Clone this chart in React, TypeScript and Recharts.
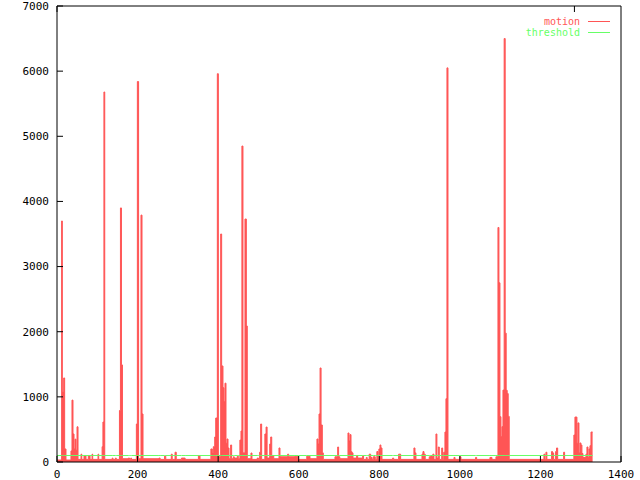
import { ComposedChart, Area, Line, XAxis, YAxis } from 'recharts';

// frame number where each step starts, and the motion value held until the next frame
const frames = [
  0, 11.5, 13.2, 16.6, 19, 22.3, 34.7, 37.2, 39.7, 42.2, 44.7, 47.2, 49.7, 52.2,
  59.6, 61.5, 67, 72, 77.7, 82, 87, 88.6, 101.8, 103.5,
  112, 114, 116.5, 118.5, 137, 139, 145, 147,
  155, 157.5, 160, 162.5, 177, 180, 183, 185,
  197, 199.5, 202.5, 208.5, 211, 213.5,
  253, 256, 267, 270, 283.7, 286, 293, 296, 309, 318, 351, 355,
  382, 385.5, 388, 391.5, 394, 398, 400.5, 406.3, 408.7, 412, 414.5, 417, 419.5, 422, 424.5,
  427, 431, 433.5, 437.7, 440, 447.6, 450, 454, 456.7, 459, 461.6, 466.6, 470, 472.3,
  481.5, 484, 497, 500, 503, 505.5, 508, 516, 519, 521.5, 528, 530.5, 533, 538,
  551, 553.5, 572.5, 575, 590.7, 599, 620, 628,
  645.3, 648, 650.4, 653, 655.5, 658.6, 661, 690, 696.7, 699, 702,
  722.3, 724.8, 727.3, 729.8, 732.2, 734.7, 743.8, 746.3, 758.7, 761, 767.7, 770,
  775, 778.6, 782, 785, 790, 794, 796.7, 799, 801.7, 804, 806.7, 833, 835.7, 848, 853,
  886, 888.6, 891, 906, 908.4, 911, 914, 924, 927.6, 930.7, 933, 935.7,
  940.7, 943, 946.5, 949, 955, 957.3, 960, 963, 965.5, 968, 970.5, 985.4, 988,
  1000, 1002.7, 1039, 1041.7, 1074.7, 1079.7, 1089.6,
  1094.6, 1097, 1099.5, 1102, 1104.5, 1107, 1110, 1112.5, 1115, 1117.5, 1120, 1122.5,
  1208.7, 1211, 1213.7, 1216, 1227.7, 1230, 1232.8, 1237.7, 1240, 1242.8, 1257.6, 1260,
  1283, 1285.7, 1290.6, 1293, 1295.6, 1298, 1300.6, 1303, 1305.5, 1313, 1315.5, 1318,
  1320.5, 1323, 1325.5, 1329.5,
];

const motion = [
  30, 3700, 1080, 1290, 200, 30, 170, 950, 430, 200, 350, 180, 540, 40,
  120, 40, 100, 40, 100, 40, 120, 40, 120, 40,
  235, 614, 5680, 40, 60, 40, 60, 40,
  790, 3900, 1490, 50, 60, 40, 60, 40,
  583, 5840, 50, 3790, 737, 50,
  60, 40, 90, 40, 120, 40, 150, 40, 60, 40, 100, 40,
  200, 140, 235, 384, 675, 5960, 80, 3500, 1474, 1140, 926, 1210, 287, 353, 214,
  50, 261, 50, 80, 60, 90, 50, 337, 476, 4850, 140, 3730, 2088, 50,
  138, 40, 60, 40, 150, 583, 40, 430, 537, 60, 276, 384, 100, 50,
  215, 80, 120, 80, 90, 40, 90, 50,
  353, 276, 737, 1443, 568, 140, 40, 80, 230, 80, 50,
  445, 322, 420, 158, 140, 60, 100, 60, 95, 40, 70, 40,
  120, 70, 40, 80, 40, 160, 40, 200, 261, 215, 40, 60, 40, 120, 40,
  215, 140, 40, 120, 160, 120, 40, 80, 95, 80, 120, 40,
  430, 60, 230, 40, 215, 40, 150, 460, 972, 6050, 40, 70, 40,
  80, 40, 70, 40, 70, 40, 80,
  3600, 2750, 695, 389, 543, 1104, 6500, 1978, 1100, 1050, 700, 40,
  120, 40, 150, 40, 160, 140, 40, 160, 215, 40, 150, 40,
  414, 690, 287, 600, 140, 292, 260, 130, 70, 120, 230, 70,
  200, 250, 460, 460,
];

const THRESHOLD = 100;

const xTicks = [0, 200, 400, 600, 800, 1000, 1200, 1400];
const yTicks = [0, 1000, 2000, 3000, 4000, 5000, 6000, 7000];

const RED = '#ff5555';
const GREEN = '#66ff66';
const FONT = '"DejaVu Sans Mono", monospace';

const data = frames.map((x, i) => ({ x, motion: motion[i], threshold: THRESHOLD }));

const tickStyle = { fontFamily: FONT, fontSize: 11, fill: '#000' };
const axisLine = { stroke: '#000', strokeWidth: 1 };

export default function App() {
  return (
    <div style={{ position: 'absolute', left: 0, top: 0, width: 640, height: 480, background: '#fff' }}>
      <ComposedChart width={640} height={480} data={data} margin={{ top: 0, right: 0, bottom: 0, left: 0 }}>
        <XAxis
          xAxisId="bottom"
          dataKey="x"
          type="number"
          domain={[0, 1400]}
          ticks={xTicks}
          height={18}
          tickSize={-6}
          tickMargin={14}
          tick={tickStyle}
          axisLine={axisLine}
          tickLine={axisLine}
          interval={0}
        />
        <XAxis
          xAxisId="top"
          orientation="top"
          type="number"
          domain={[0, 1400]}
          ticks={xTicks}
          height={6}
          tickSize={-6}
          tickFormatter={() => ''}
          axisLine={axisLine}
          tickLine={axisLine}
          interval={0}
        />
        <YAxis
          yAxisId="left"
          type="number"
          domain={[0, 7000]}
          ticks={yTicks}
          width={57}
          tickSize={-6}
          tickMargin={14}
          tick={tickStyle}
          axisLine={axisLine}
          tickLine={axisLine}
          interval={0}
        />
        <YAxis
          yAxisId="right"
          orientation="right"
          type="number"
          domain={[0, 7000]}
          ticks={yTicks}
          width={19}
          tickSize={-6}
          tickFormatter={() => ''}
          axisLine={axisLine}
          tickLine={axisLine}
          interval={0}
        />
        <Area
          xAxisId="bottom"
          yAxisId="left"
          type="stepAfter"
          dataKey="motion"
          stroke={RED}
          strokeWidth={1}
          fill={RED}
          fillOpacity={1}
          isAnimationActive={false}
        />
        <Line
          xAxisId="bottom"
          yAxisId="left"
          type="linear"
          dataKey="threshold"
          stroke={GREEN}
          strokeWidth={1}
          dot={false}
          isAnimationActive={false}
        />
      </ComposedChart>
      <div style={{ position: 'absolute', top: 16, left: 480, width: 130, fontFamily: FONT, fontSize: 10, lineHeight: '11px' }}>
        <div style={{ display: 'flex', alignItems: 'center', justifyContent: 'flex-end', height: 11 }}>
          <span style={{ color: RED }}>motion</span>
          <span style={{ display: 'inline-block', width: 22, height: 1, background: RED, marginLeft: 8 }} />
        </div>
        <div style={{ display: 'flex', alignItems: 'center', justifyContent: 'flex-end', height: 11 }}>
          <span style={{ color: GREEN }}>threshold</span>
          <span style={{ display: 'inline-block', width: 22, height: 1, background: GREEN, marginLeft: 8 }} />
        </div>
      </div>
    </div>
  );
}
